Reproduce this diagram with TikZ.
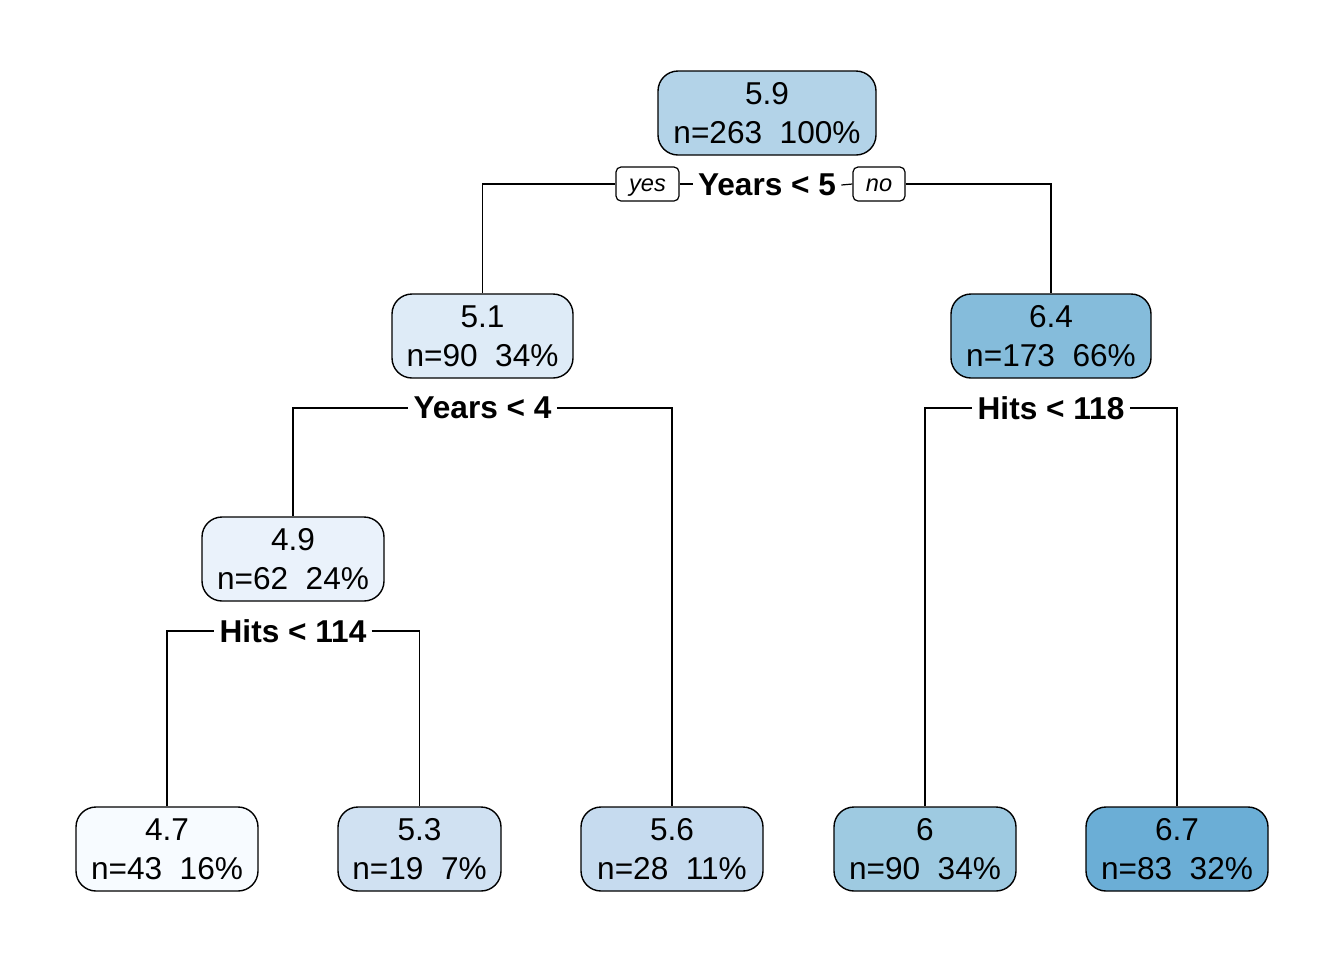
\documentclass[tikz,border=0pt]{standalone}
\usepackage{fontspec}
\setmainfont{Liberation Sans}
\usetikzlibrary{backgrounds}
\definecolor{c59}{HTML}{B3D3E8}
\definecolor{c51}{HTML}{DEEBF7}
\definecolor{c64}{HTML}{85BCDB}
\definecolor{c49}{HTML}{EAF2FB}
\definecolor{c47}{HTML}{F7FBFF}
\definecolor{c53}{HTML}{D0E1F2}
\definecolor{c56}{HTML}{C6DBEF}
\definecolor{c60}{HTML}{9ECAE1}
\definecolor{c67}{HTML}{6BAED6}
\tikzset{
  treebox/.style={draw, line width=0.7pt, rounded corners=10pt, minimum height=42pt,
    inner sep=0pt, align=center, font=\fontsize{15.8}{19.5}\selectfont},
  splitlabel/.style={fill=white, inner xsep=2.5pt, inner ysep=1pt,
    font=\fontsize{15.8}{18}\selectfont\bfseries},
  answer/.style={draw, fill=white, line width=0.6pt, rounded corners=2.5pt,
    minimum height=17pt, inner sep=0pt, text height=8.5pt, text depth=1pt,
    font=\fontsize{11.8}{13}\selectfont\itshape},
  edge/.style={line width=0.6pt}
}
\begin{document}
\begin{tikzpicture}[x=0.5pt, y=-0.5pt]
\useasboundingbox (0,0) rectangle (1344,960);
% nodes of the tree
\node[treebox, fill=c59, minimum width=109pt] (root) at (767,113) {5.9\\n=263\ \ 100\%};
\node[treebox, fill=c51, minimum width=90.5pt] (n51) at (482.5,336) {5.1\\n=90\ \ 34\%};
\node[treebox, fill=c64, minimum width=100pt] (n64) at (1051,336) {6.4\\n=173\ \ 66\%};
\node[treebox, fill=c49, minimum width=91pt] (n49) at (293,559) {4.9\\n=62\ \ 24\%};
\node[treebox, fill=c47, minimum width=91pt] (n47) at (167,849) {4.7\\n=43\ \ 16\%};
\node[treebox, fill=c53, minimum width=81.5pt] (n53) at (419.5,849) {5.3\\n=19\ \ 7\%};
\node[treebox, fill=c56, minimum width=91pt] (n56) at (672,849) {5.6\\n=28\ \ 11\%};
\node[treebox, fill=c60, minimum width=91pt] (n60) at (925,849) {6\\n=90\ \ 34\%};
\node[treebox, fill=c67, minimum width=91pt] (n67) at (1177,849) {6.7\\n=83\ \ 32\%};
% split labels
\node[splitlabel] (s1) at (767,185) {Years < 5};
\node[splitlabel] (s2) at (482.5,408) {Years < 4};
\node[splitlabel] (s3) at (1051,408) {Hits < 118};
\node[splitlabel] (s4) at (293,631) {Hits < 114};
\node[answer, minimum width=31.5pt] (yes) at (647.5,184) {yes};
\node[answer, minimum width=26pt] (no) at (879,184) {no};
% connectors
\begin{pgfonlayer}{background}
\draw[edge] (n51.north) |- (yes.west);
\draw[edge] (yes.east) -- (yes.east -| s1.west);
\draw[edge] (s1.east) -- (no.west);
\draw[edge] (no.east) -| (n64.north);
\draw[edge] (n49.north) |- (s2.west);
\draw[edge] (s2.east) -| (n56.north);
\draw[edge] (n60.north) |- (s3.west);
\draw[edge] (s3.east) -| (n67.north);
\draw[edge] (n47.north) |- (s4.west);
\draw[edge] (s4.east) -| (n53.north);
\end{pgfonlayer}
\end{tikzpicture}
\end{document}
